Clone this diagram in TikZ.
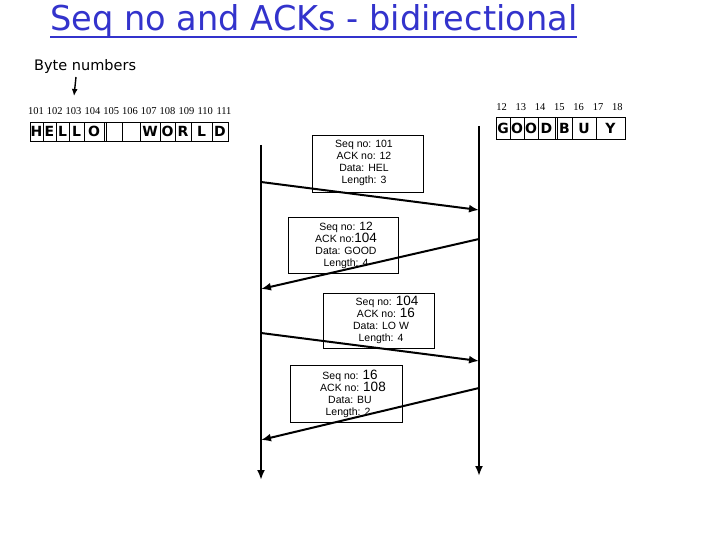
\documentclass[tikz,border=0pt]{standalone}
\usepackage{fontspec}
\usepackage{graphicx}
\usetikzlibrary{arrows.meta}
\newfontfamily\comicf{DejaVu Sans}
\newfontfamily\labf{Liberation Sans}
\newfontfamily\numf{Liberation Serif}
\definecolor{titleblue}{RGB}{51,51,204}
\begin{document}
\begin{tikzpicture}[x=1pt,y=-1pt,
  cell/.style={draw,line width=0.8pt,inner sep=0pt,minimum height=19pt,font=\comicf\bfseries\fontsize{14}{14}\selectfont},
  msgbox/.style={draw,line width=0.8pt,inner sep=0pt},
  msgtext/.style={align=center,font=\labf\fontsize{10.5}{12}\selectfont,inner sep=0pt},
  tline/.style={line width=2.4pt,-{Latex[length=10pt,width=8pt]}},
  msg/.style={line width=2pt,-{Latex[length=10pt,width=8pt]}},
  num/.style={font=\numf\fontsize{10.5}{10.5}\selectfont,inner sep=0pt}
]
\useasboundingbox (0,0) rectangle (720,540);
% title
\node[anchor=base west, inner sep=0pt, text=titleblue] (title) at (50,31) {\resizebox{527pt}{26pt}{\comicf Seq no and ACKs - bidirectional}};
\coordinate (ul1) at (50,37);
\coordinate (ul2) at (577,37);
\draw[titleblue,line width=2.5pt] (ul1) -- (ul2);
% byte numbers
\node[anchor=west,inner sep=0pt,font=\comicf\fontsize{14.5}{14}\selectfont] (bytes) at (34,67) {Byte numbers};
\coordinate (ba) at (76,77);
\coordinate (bb) at (74,96);
\draw[line width=1.4pt,-{Latex[length=7pt,width=6pt]}] (ba) -- (bb);
% number labels
\foreach \n [count=\i from 0] in {101,102,103,104,105,106,107,108,109,110,111}
  \node[num] (n\n) at ({36+18.8*\i},111) {\n};
\foreach \n [count=\i from 0] in {12,13,14,15,16,17,18}
  \node[num] (m\n) at ({501.5+19.3*\i},107) {\n};
% HELLO WORLD cells
\foreach \a/\b/\t [count=\i] in {30/43/H,43/56/E,56/69/L,69/84/L,84/104/O,104/122/{},122/140/{},140/160/W,160/175/O,175/191/R,191/212/L,212/228/D}
  \node[cell,minimum width={(\b-\a)*1pt}] (c\i) at ({(\a+\b)/2},131.5) {\t};
\draw[line width=0.8pt] (106,122) -- (106,141);
% GOODBUY cells
\foreach \a/\b/\t [count=\i] in {496/510/G,510/524/O,524/538/O,538/555/D,557/572/B,572/596/U,596/625/Y}
  \node[cell,minimum width={(\b-\a)*1pt},minimum height=22pt] (g\i) at ({(\a+\b)/2},128.5) {\t};
\draw[line width=0.8pt] (555,117.5) -- (557,117.5) (555,139.5) -- (557,139.5);
% timelines
\coordinate (lt) at (261,145);
\coordinate (lb) at (261,480);
\coordinate (rt) at (479,126);
\coordinate (rb) at (479,476);
\draw[tline] (lt) -- (lb);
\draw[tline] (rt) -- (rb);
% message boxes
\node[msgbox,minimum width=111pt,minimum height=57pt] (b1) at (367.5,163.5) {};
\node[msgbox,minimum width=110pt,minimum height=56pt] (b2) at (343,245) {};
\node[msgbox,minimum width=111pt,minimum height=55pt] (b3) at (378.5,320.5) {};
\node[msgbox,minimum width=112pt,minimum height=57pt] (b4) at (346,393.5) {};
% arrows
\coordinate (a1s) at (261,182);
\coordinate (a1e) at (479,210);
\coordinate (a2s) at (479,239);
\coordinate (a2e) at (261,289);
\coordinate (a3s) at (261,333);
\coordinate (a3e) at (479,361);
\coordinate (a4s) at (479,388);
\coordinate (a4e) at (261,440);
\draw[msg] (a1s) -- (a1e);
\draw[msg] (a2s) -- (a2e);
\draw[msg] (a3s) -- (a3e);
\draw[msg] (a4s) -- (a4e);
% message texts
\node[msgtext] (t1) at (364,163) {Seq no: 101\\ACK no: 12\\Data: HEL\\Length: 3};
\node[msgtext] (t2) at (346,245) {Seq no: {\fontsize{12}{12}\selectfont 12}\\ACK no:{\fontsize{13.5}{12}\selectfont 104}\\Data: GOOD\\Length: 4};
\node[msgtext] (t3) at (381,320) {\hspace*{12pt}Seq no: {\fontsize{13.5}{12}\selectfont 104}\\\hspace*{10pt}ACK no: {\fontsize{13.5}{12}\selectfont 16}\\Data: LO W\\Length: 4};
\node[msgtext] (t4) at (350,394) {Seq no: {\fontsize{13.5}{12}\selectfont 16}\\\hspace*{6pt}ACK no: {\fontsize{13.5}{12}\selectfont 108}\\Data: BU\hspace*{6pt}\\Length: 2\hspace*{4pt}};
\end{tikzpicture}
\end{document}
